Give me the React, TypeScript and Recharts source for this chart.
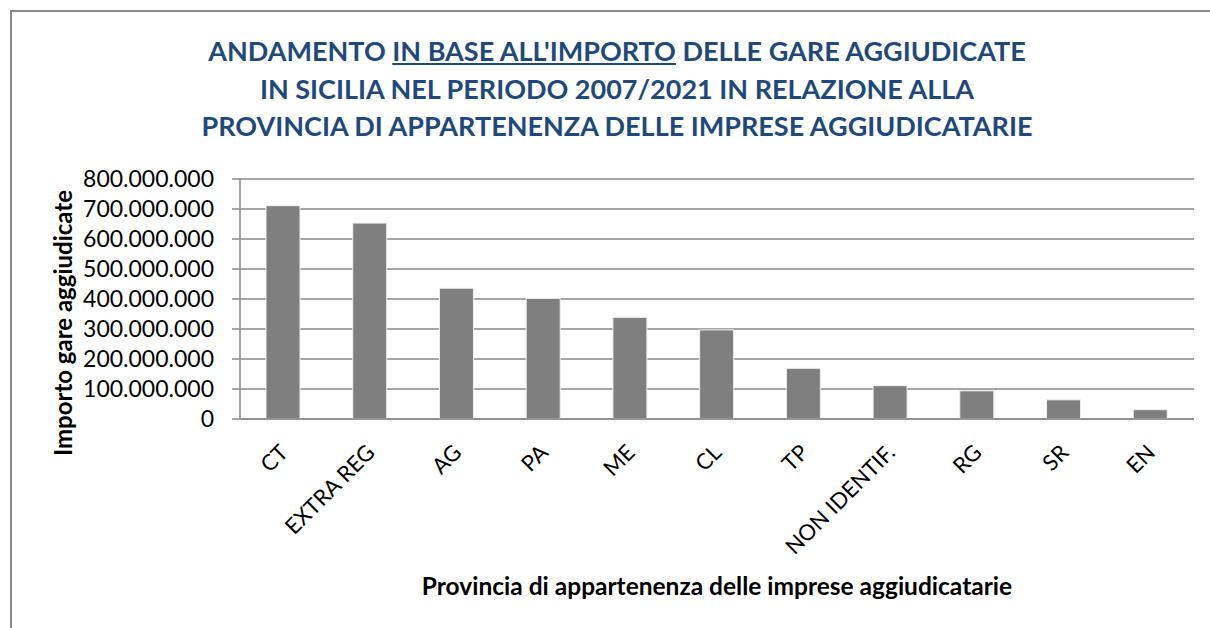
import { Bar, BarChart, CartesianGrid, XAxis, YAxis } from "recharts";

const province = [
  "CT",
  "EXTRA REG",
  "AG",
  "PA",
  "ME",
  "CL",
  "TP",
  "NON IDENTIF.",
  "RG",
  "SR",
  "EN",
];

const importi = [
  711000000, 653000000, 436000000, 402000000, 339000000, 297000000, 169000000,
  111000000, 94000000, 64000000, 31000000,
];

const yTicks = [
  0, 100000000, 200000000, 300000000, 400000000, 500000000, 600000000,
  700000000, 800000000,
];

const FONT = "Lato, 'Open Sans', sans-serif";

const formatIt = (v: number) =>
  String(v).replace(/\B(?=(\d{3})+(?!\d))/g, ".");

function XTick(props: any) {
  const { x, y, payload } = props;
  return (
    <text
      transform={`translate(${x + 6}, ${y + 35}) rotate(-45)`}
      textAnchor="end"
      fontSize={22}
      fontFamily={FONT}
      fill="#000"
    >
      {payload.value}
    </text>
  );
}

export default function App() {
  const data = province.map((p, i) => ({ provincia: p, importo: importi[i] }));

  return (
    <div
      style={{
        position: "absolute",
        left: 0,
        top: 0,
        width: 1210,
        height: 628,
        overflow: "hidden",
        background: "#fff",
        fontFamily: FONT,
      }}
    >
      <div
        style={{
          position: "absolute",
          left: 10,
          top: 10,
          width: 1300,
          height: 700,
          borderLeft: "2px solid #8c8c8c",
          borderTop: "2px solid #8c8c8c",
        }}
      />
      <div
        style={{
          position: "absolute",
          left: 0,
          top: 32,
          width: 1234,
          textAlign: "center",
          color: "#1f497d",
          fontWeight: 700,
          fontSize: 27,
          lineHeight: "37.5px",
        }}
      >
        <div>
          ANDAMENTO{" "}
          <span style={{ textDecoration: "underline" }}>
            IN BASE ALL'IMPORTO
          </span>{" "}
          DELLE GARE AGGIUDICATE
        </div>
        <div>IN SICILIA NEL PERIODO 2007/2021 IN RELAZIONE ALLA</div>
        <div>PROVINCIA DI APPARTENENZA DELLE IMPRESE AGGIUDICATARIE</div>
      </div>
      <div
        style={{
          position: "absolute",
          left: 62,
          top: 323,
          transform: "translate(-50%, -50%) rotate(-90deg)",
          whiteSpace: "nowrap",
          fontWeight: 700,
          fontSize: 24,
          color: "#000",
        }}
      >
        Importo gare aggiudicate
      </div>
      <div
        style={{
          position: "absolute",
          left: 717,
          top: 585,
          transform: "translate(-50%, -50%)",
          whiteSpace: "nowrap",
          fontWeight: 700,
          fontSize: 24.5,
          color: "#000",
        }}
      >
        Provincia di appartenenza delle imprese aggiudicatarie
      </div>
      <div style={{ position: "absolute", left: 0, top: 0 }}>
        <BarChart
          width={1210}
          height={628}
          data={data}
          margin={{ top: 179, right: 16, left: 0, bottom: 59 }}
        >
          <CartesianGrid
            vertical={false}
            stroke="#888888"
            strokeWidth={1.5}
          />
          <XAxis
            dataKey="provincia"
            height={150}
            interval={0}
            tickLine={false}
            tickSize={0}
            tickMargin={0}
            axisLine={{ stroke: "#888888", strokeWidth: 1.5 }}
            tick={<XTick />}
          />
          <YAxis
            width={240}
            domain={[0, 800000000]}
            ticks={yTicks}
            interval={0}
            tickFormatter={formatIt}
            tickSize={8}
            tickMargin={18}
            tickLine={{ stroke: "#888888", strokeWidth: 1.5 }}
            axisLine={{ stroke: "#888888", strokeWidth: 1.5 }}
            tick={{ fontSize: 23, fill: "#000", fontFamily: FONT }}
          />
          <Bar
            dataKey="importo"
            fill="#7f7f7f"
            stroke="#f0f0f0"
            strokeWidth={1}
            barSize={34}
            isAnimationActive={false}
          />
        </BarChart>
      </div>
    </div>
  );
}
